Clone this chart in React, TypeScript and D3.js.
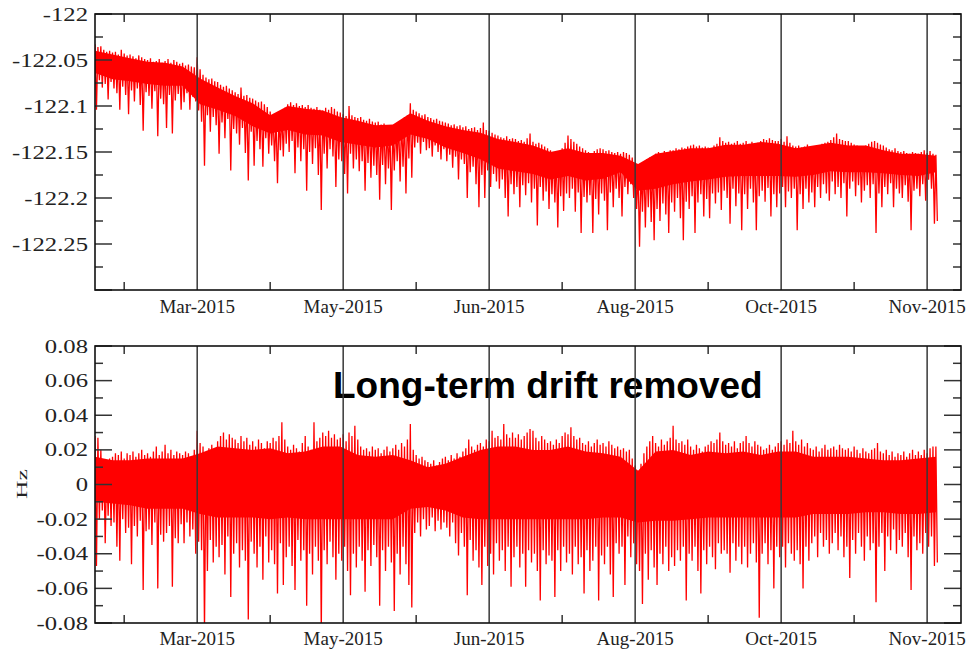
import React, { useEffect, useRef } from 'react';
import * as d3 from 'd3';

// x axis: days since the first sample
const monthLabels = ['Mar-2015', 'May-2015', 'Jun-2015', 'Aug-2015', 'Oct-2015', 'Nov-2015'];
const monthDays = [35, 85, 135, 185, 235, 285];
const midDays = [10, 60, 110, 160, 210, 260];
const coreDays = [0, 6, 12, 18, 24, 30, 36, 42, 48, 54, 60, 66, 72, 78, 84, 90, 96, 102, 108, 114, 120, 126, 132, 138, 144, 150, 156, 162, 168, 174, 180, 186, 192, 198, 204, 210, 216, 222, 228, 234, 240, 246, 252, 258, 264, 270, 276, 282, 288];

// top panel - raw frequency (Hz)
const rawTicks = [-122, -122.05, -122.1, -122.15, -122.2, -122.25, -122.3];
const rawTickLabels = ['-122', '-122.05', '-122.1', '-122.15', '-122.2', '-122.25', ''];
const rawMinor = [-122.025, -122.075, -122.125, -122.175, -122.225, -122.275];

// daily upper / lower excursions
const rawHigh = [
  -122.033, -122.036, -122.035, -122.039, -122.041, -122.040,
  -122.042, -122.041, -122.044, -122.039, -122.043, -122.045,
  -122.044, -122.046, -122.048, -122.045, -122.047, -122.049,
  -122.050, -122.048, -122.052, -122.051, -122.049, -122.053,
  -122.051, -122.049, -122.053, -122.050, -122.052, -122.054,
  -122.053, -122.056, -122.055, -122.057, -122.058, -122.047,
  -122.060, -122.066, -122.069, -122.071, -122.070, -122.073,
  -122.074, -122.077, -122.079, -122.078, -122.081, -122.083,
  -122.085, -122.087, -122.080, -122.089, -122.088, -122.091,
  -122.092, -122.094, -122.096, -122.095, -122.098, -122.101,
  -122.106, -122.110, -122.112, -122.111, -122.108, -122.102,
  -122.098, -122.096, -122.099, -122.097, -122.100, -122.099,
  -122.101, -122.099, -122.102, -122.103, -122.101, -122.104,
  -122.105, -122.102, -122.104, -122.101, -122.103, -122.106,
  -122.107, -122.109, -122.111, -122.100, -122.110, -122.112,
  -122.113, -122.112, -122.115, -122.116, -122.114, -122.117,
  -122.118, -122.117, -122.120, -122.119, -122.121, -122.122,
  -122.121, -122.119, -122.117, -122.115, -122.112, -122.110,
  -122.097, -122.104, -122.106, -122.108, -122.110, -122.109,
  -122.112, -122.113, -122.115, -122.114, -122.116, -122.117,
  -122.118, -122.119, -122.121, -122.120, -122.122, -122.121,
  -122.123, -122.122, -122.125, -122.124, -122.123, -122.126,
  -122.124, -122.118, -122.126, -122.127, -122.129, -122.131,
  -122.132, -122.134, -122.135, -122.133, -122.136, -122.135,
  -122.136, -122.138, -122.137, -122.139, -122.135, -122.130,
  -122.139, -122.141, -122.140, -122.142, -122.144, -122.146,
  -122.148, -122.150, -122.152, -122.149, -122.146, -122.140,
  -122.132, -122.136, -122.139, -122.141, -122.144, -122.146,
  -122.148, -122.150, -122.152, -122.149, -122.147, -122.146,
  -122.147, -122.149, -122.148, -122.150, -122.151, -122.150,
  -122.152, -122.150, -122.151, -122.153, -122.156, -122.163,
  -122.171, -122.168, -122.163, -122.158, -122.156, -122.155,
  -122.152, -122.150, -122.151, -122.149, -122.150, -122.148,
  -122.148, -122.146, -122.147, -122.145, -122.146, -122.144,
  -122.143, -122.142, -122.144, -122.143, -122.145, -122.144,
  -122.145, -122.146, -122.143, -122.141, -122.134, -122.138,
  -122.140, -122.139, -122.141, -122.140, -122.138, -122.141,
  -122.140, -122.138, -122.141, -122.139, -122.142, -122.140,
  -122.138, -122.136, -122.137, -122.135, -122.137, -122.138,
  -122.138, -122.136, -122.139, -122.133, -122.140, -122.143,
  -122.144, -122.143, -122.145, -122.144, -122.142, -122.145,
  -122.146, -122.144, -122.143, -122.141, -122.140, -122.139,
  -122.137, -122.134, -122.130, -122.136, -122.137, -122.138,
  -122.138, -122.140, -122.142, -122.143, -122.145, -122.144,
  -122.143, -122.141, -122.139, -122.138, -122.140, -122.142,
  -122.143, -122.145, -122.147, -122.148, -122.146, -122.149,
  -122.150, -122.149, -122.151, -122.152, -122.150, -122.151,
  -122.152, -122.150, -122.148, -122.151, -122.149, -122.152, -122.153,
];
const rawLow = [
  -122.104, -122.072, -122.080, -122.076, -122.093, -122.074,
  -122.081, -122.086, -122.104, -122.079, -122.088, -122.109,
  -122.083, -122.095, -122.081, -122.099, -122.127, -122.085,
  -122.089, -122.103, -122.084, -122.133, -122.092, -122.098,
  -122.124, -122.088, -122.130, -122.094, -122.087, -122.104,
  -122.096, -122.086, -122.104, -122.090, -122.095, -122.105,
  -122.117, -122.165, -122.110, -122.128, -122.112, -122.121,
  -122.152, -122.118, -122.135, -122.114, -122.170, -122.125,
  -122.130, -122.142, -122.124, -122.151, -122.181, -122.128,
  -122.165, -122.138, -122.147, -122.166, -122.135, -122.152,
  -122.143, -122.160, -122.184, -122.148, -122.155, -122.141,
  -122.150, -122.138, -122.173, -122.145, -122.160, -122.147,
  -122.192, -122.150, -122.163, -122.146, -122.175, -122.213,
  -122.152, -122.168, -122.147, -122.155, -122.188, -122.158,
  -122.160, -122.174, -122.195, -122.152, -122.168, -122.158,
  -122.171, -122.160, -122.192, -122.162, -122.178, -122.165,
  -122.175, -122.202, -122.164, -122.185, -122.168, -122.213,
  -122.170, -122.160, -122.182, -122.166, -122.195, -122.157,
  -122.178, -122.145, -122.140, -122.152, -122.139, -122.148,
  -122.146, -122.155, -122.143, -122.150, -122.158, -122.147,
  -122.160, -122.153, -122.167, -122.155, -122.180, -122.158,
  -122.163, -122.200, -122.172, -122.166, -122.185, -122.210,
  -122.175, -122.200, -122.170, -122.188, -122.174, -122.182,
  -122.190, -122.180, -122.200, -122.220, -122.185, -122.196,
  -122.188, -122.210, -122.186, -122.197, -122.184, -122.205,
  -122.190, -122.230, -122.188, -122.203, -122.193, -122.212,
  -122.196, -122.205, -122.232, -122.198, -122.214, -122.195,
  -122.200, -122.190, -122.215, -122.194, -122.238, -122.199,
  -122.205, -122.197, -122.238, -122.201, -122.218, -122.195,
  -122.203, -122.235, -122.194, -122.210, -122.190, -122.200,
  -122.220, -122.188, -122.196, -122.185, -122.200, -122.212,
  -122.253, -122.215, -122.232, -122.210, -122.226, -122.246,
  -122.212, -122.225, -122.206, -122.218, -122.238, -122.205,
  -122.215, -122.200, -122.222, -122.246, -122.204, -122.212,
  -122.198, -122.238, -122.205, -122.196, -122.220, -122.201,
  -122.222, -122.195, -122.206, -122.194, -122.213, -122.192,
  -122.200, -122.228, -122.190, -122.209, -122.195, -122.235,
  -122.196, -122.212, -122.190, -122.205, -122.235, -122.198,
  -122.192, -122.204, -122.189, -122.220, -122.196, -122.210,
  -122.195, -122.188, -122.210, -122.193, -122.200, -122.190,
  -122.235, -122.196, -122.212, -122.190, -122.205, -122.194,
  -122.210, -122.188, -122.200, -122.185, -122.195, -122.203,
  -122.182, -122.196, -122.188, -122.200, -122.184, -122.220,
  -122.190, -122.182, -122.198, -122.186, -122.205, -122.192,
  -122.186, -122.200, -122.185, -122.238, -122.195, -122.210,
  -122.188, -122.196, -122.184, -122.210, -122.190, -122.195,
  -122.200, -122.186, -122.204, -122.235, -122.192, -122.190,
  -122.198, -122.185, -122.203, -122.180, -122.190, -122.228, -122.225,
];
// dense part of the band, every 6 days
const rawCoreTop = [
  -122.040, -122.044, -122.048, -122.052, -122.053, -122.057, -122.070, -122.080, -122.089, -122.097,
  -122.110, -122.100, -122.103, -122.105, -122.112, -122.116, -122.121, -122.120, -122.108, -122.116,
  -122.122, -122.126, -122.129, -122.136, -122.139, -122.143, -122.150, -122.146, -122.151, -122.151,
  -122.154, -122.163, -122.152, -122.149, -122.146, -122.146, -122.142, -122.142, -122.139, -122.141,
  -122.146, -122.143, -122.140, -122.143, -122.143, -122.148, -122.152, -122.152, -122.154,
];
const rawCoreBottom = [
  -122.064, -122.071, -122.073, -122.076, -122.078, -122.078, -122.098, -122.104, -122.111, -122.122,
  -122.130, -122.126, -122.131, -122.132, -122.139, -122.142, -122.145, -122.143, -122.131, -122.136,
  -122.145, -122.151, -122.158, -122.168, -122.171, -122.174, -122.180, -122.176, -122.181, -122.179,
  -122.172, -122.192, -122.190, -122.185, -122.182, -122.180, -122.177, -122.176, -122.176, -122.176,
  -122.177, -122.175, -122.171, -122.172, -122.172, -122.173, -122.175, -122.176, -122.172,
];

// bottom panel - long-term drift removed (Hz)
const detTicks = [0.08, 0.06, 0.04, 0.02, 0, -0.02, -0.04, -0.06, -0.08];
const detTickLabels = ['0.08', '0.06', '0.04', '0.02', '0', '-0.02', '-0.04', '-0.06', '-0.08'];
const detMinor = [0.07, 0.05, 0.03, 0.01, -0.01, -0.03, -0.05, -0.07];

const detHigh = [
  0.028, 0.027, 0.020, 0.014, 0.012, 0.015,
  0.016, 0.018, 0.017, 0.019, 0.015, 0.018,
  0.017, 0.019, 0.016, 0.018, 0.020, 0.017,
  0.018, 0.016, 0.019, 0.022, 0.017, 0.019,
  0.023, 0.018, 0.020, 0.017, 0.019, 0.018,
  0.017, 0.019, 0.018, 0.016, 0.020, 0.031,
  0.024, 0.022, 0.018, 0.021, 0.023, 0.020,
  0.025, 0.028, 0.030, 0.026, 0.029, 0.027,
  0.026, 0.024, 0.028, 0.025, 0.027, 0.023,
  0.025, 0.022, 0.026, 0.024, 0.021, 0.025,
  0.024, 0.027, 0.025, 0.028, 0.036, 0.026,
  0.022, 0.020, 0.023, 0.021, 0.019, 0.024,
  0.028, 0.022, 0.020, 0.036, 0.025, 0.027,
  0.030, 0.028, 0.031, 0.027, 0.029, 0.026,
  0.027, 0.029, 0.025, 0.030, 0.028, 0.034,
  0.026, 0.022, 0.020, 0.021, 0.019, 0.022,
  0.020, 0.021, 0.018, 0.020, 0.022, 0.019,
  0.021, 0.023, 0.020, 0.024, 0.022, 0.026,
  0.035, 0.020, 0.017, 0.015, 0.016, 0.014,
  0.013, 0.012, 0.014, 0.011, 0.013, 0.015,
  0.016, 0.014, 0.017, 0.015, 0.018, 0.016,
  0.019, 0.021, 0.026, 0.022, 0.020, 0.023,
  0.024, 0.022, 0.026, 0.025, 0.031, 0.027,
  0.028, 0.026, 0.035, 0.029, 0.027, 0.030,
  0.027, 0.029, 0.026, 0.028, 0.030, 0.032,
  0.031, 0.027, 0.025, 0.028, 0.026, 0.024,
  0.025, 0.023, 0.026, 0.024, 0.028, 0.030,
  0.029, 0.033, 0.028, 0.026, 0.027, 0.024,
  0.023, 0.025, 0.022, 0.024, 0.026, 0.023,
  0.024, 0.022, 0.025, 0.023, 0.021, 0.022,
  0.020, 0.021, 0.019, 0.020, 0.015, 0.011,
  0.008, 0.012, 0.018, 0.022, 0.025, 0.028,
  0.024, 0.022, 0.026, 0.023, 0.025, 0.027,
  0.034, 0.026, 0.024, 0.025, 0.023, 0.026,
  0.022, 0.020, 0.023, 0.021, 0.019, 0.022,
  0.023, 0.025, 0.024, 0.026, 0.030, 0.025,
  0.023, 0.024, 0.022, 0.025, 0.021, 0.024,
  0.025, 0.028, 0.024, 0.022, 0.025, 0.023,
  0.022, 0.020, 0.021, 0.023, 0.020, 0.022,
  0.024, 0.025, 0.023, 0.026, 0.024, 0.031,
  0.025, 0.023, 0.026, 0.022, 0.024, 0.021,
  0.020, 0.022, 0.019, 0.021, 0.023, 0.020,
  0.021, 0.022, 0.020, 0.023, 0.021, 0.020,
  0.021, 0.019, 0.022, 0.020, 0.018, 0.021,
  0.019, 0.018, 0.020, 0.021, 0.024, 0.019,
  0.018, 0.020, 0.017, 0.019, 0.016, 0.018,
  0.017, 0.019, 0.016, 0.018, 0.020, 0.017,
  0.019, 0.017, 0.020, 0.018, 0.021, 0.022, 0.022,
];
const detLow = [
  -0.047, -0.020, -0.015, -0.034, -0.018, -0.024,
  -0.022, -0.036, -0.044, -0.020, -0.028, -0.025,
  -0.046, -0.024, -0.030, -0.021, -0.061, -0.027,
  -0.026, -0.035, -0.022, -0.060, -0.029, -0.033,
  -0.028, -0.024, -0.059, -0.031, -0.034, -0.023,
  -0.034, -0.022, -0.030, -0.026, -0.040, -0.033,
  -0.038, -0.085, -0.050, -0.032, -0.045, -0.036,
  -0.042, -0.035, -0.052, -0.030, -0.065, -0.040,
  -0.034, -0.048, -0.038, -0.044, -0.078, -0.033,
  -0.040, -0.048, -0.036, -0.055, -0.030, -0.045,
  -0.038, -0.046, -0.063, -0.034, -0.058, -0.042,
  -0.036, -0.047, -0.061, -0.032, -0.044, -0.038,
  -0.070, -0.040, -0.052, -0.036, -0.044, -0.085,
  -0.038, -0.046, -0.033, -0.042, -0.055, -0.040,
  -0.044, -0.036, -0.050, -0.064, -0.040, -0.048,
  -0.036, -0.044, -0.062, -0.038, -0.047, -0.035,
  -0.042, -0.070, -0.038, -0.050, -0.036, -0.045,
  -0.073, -0.040, -0.052, -0.036, -0.046, -0.058,
  -0.071, -0.028, -0.022, -0.030, -0.020, -0.026,
  -0.024, -0.019, -0.027, -0.021, -0.026, -0.022,
  -0.025, -0.030, -0.022, -0.034, -0.041, -0.028,
  -0.036, -0.064, -0.032, -0.044, -0.038, -0.048,
  -0.058, -0.036, -0.047, -0.040, -0.052, -0.034,
  -0.044, -0.038, -0.050, -0.036, -0.059, -0.042,
  -0.036, -0.048, -0.040, -0.059, -0.038, -0.045,
  -0.040, -0.050, -0.067, -0.038, -0.046, -0.041,
  -0.044, -0.065, -0.038, -0.050, -0.036, -0.045,
  -0.040, -0.052, -0.036, -0.046, -0.042, -0.063,
  -0.038, -0.050, -0.044, -0.036, -0.067, -0.041,
  -0.046, -0.036, -0.052, -0.065, -0.034, -0.040,
  -0.036, -0.058, -0.030, -0.042, -0.034, -0.046,
  -0.050, -0.069, -0.040, -0.055, -0.038, -0.048,
  -0.058, -0.040, -0.046, -0.036, -0.050, -0.042,
  -0.047, -0.038, -0.044, -0.036, -0.067, -0.040,
  -0.044, -0.036, -0.050, -0.063, -0.038, -0.046,
  -0.036, -0.042, -0.049, -0.034, -0.040, -0.038,
  -0.040, -0.051, -0.034, -0.044, -0.036, -0.046,
  -0.036, -0.048, -0.040, -0.034, -0.045, -0.077,
  -0.040, -0.034, -0.046, -0.038, -0.060, -0.036,
  -0.042, -0.036, -0.048, -0.034, -0.040, -0.044,
  -0.038, -0.046, -0.060, -0.036, -0.044, -0.034,
  -0.030, -0.042, -0.028, -0.036, -0.032, -0.040,
  -0.034, -0.028, -0.038, -0.030, -0.042, -0.036,
  -0.054, -0.032, -0.040, -0.028, -0.036, -0.044,
  -0.030, -0.038, -0.034, -0.068, -0.036, -0.028,
  -0.050, -0.030, -0.038, -0.026, -0.040, -0.032,
  -0.036, -0.028, -0.042, -0.061, -0.030, -0.038,
  -0.034, -0.040, -0.028, -0.036, -0.030, -0.047, -0.045,
];
const detCoreTop = [
  0.016, 0.014, 0.014, 0.015, 0.015, 0.015, 0.018, 0.022, 0.021, 0.020,
  0.021, 0.018, 0.019, 0.022, 0.022, 0.017, 0.016, 0.017, 0.014, 0.010,
  0.012, 0.016, 0.020, 0.022, 0.022, 0.020, 0.020, 0.022, 0.019, 0.018,
  0.016, 0.008, 0.019, 0.020, 0.017, 0.019, 0.018, 0.019, 0.017, 0.019,
  0.019, 0.016, 0.016, 0.016, 0.015, 0.014, 0.014, 0.015, 0.016,
];
const detCoreBottom = [
  -0.010, -0.011, -0.012, -0.014, -0.014, -0.014, -0.017, -0.019, -0.019, -0.019,
  -0.020, -0.019, -0.020, -0.020, -0.020, -0.020, -0.020, -0.020, -0.014, -0.013,
  -0.015, -0.019, -0.020, -0.020, -0.020, -0.020, -0.020, -0.020, -0.020, -0.019,
  -0.019, -0.022, -0.021, -0.021, -0.020, -0.019, -0.019, -0.019, -0.019, -0.019,
  -0.019, -0.017, -0.017, -0.017, -0.016, -0.016, -0.017, -0.017, -0.016,
];

const serif = "'Liberation Serif', 'Times New Roman', serif";

const App = () => {
  const ref = useRef<SVGSVGElement>(null);

  useEffect(() => {
    const svg = d3.select(ref.current);
    svg.selectAll('*').remove();

    const left = 95;
    const right = 961;
    const x = d3.scaleLinear().domain([0, 296.6]).range([left, right]);

    const panels = [
      {
        top: 14, bottom: 290, domain: [-122.3, -122],
        high: rawHigh, low: rawLow, coreTop: rawCoreTop, coreBottom: rawCoreBottom,
        ticks: rawTicks, labels: rawTickLabels, minor: rawMinor,
        labelY: 313, rightMajor: 8,
      },
      {
        top: 346, bottom: 623, domain: [-0.08, 0.08],
        high: detHigh, low: detLow, coreTop: detCoreTop, coreBottom: detCoreBottom,
        ticks: detTicks, labels: detTickLabels, minor: detMinor,
        labelY: 645, rightMajor: 17,
      },
    ];

    const ys = panels.map(p => d3.scaleLinear().domain(p.domain).range([p.bottom, p.top]));

    // signal
    panels.forEach((p, i) => {
      const y = ys[i];
      const clipId = `plot-clip-${i}`;
      svg.append('clipPath').attr('id', clipId)
        .append('rect')
        .attr('x', left).attr('y', p.top)
        .attr('width', right - left).attr('height', p.bottom - p.top);

      const plot = svg.append('g').attr('clip-path', `url(#${clipId})`);

      const core = d3.area<number>()
        .x(k => x(coreDays[k]))
        .y0(k => y(p.coreBottom[k]))
        .y1(k => y(p.coreTop[k]));
      plot.append('path')
        .datum(d3.range(coreDays.length))
        .attr('fill', '#ff0000')
        .attr('d', core);

      const pts: [number, number][] = [];
      const n = Math.min(p.high.length, p.low.length);
      for (let d = 0; d < n; d++) {
        pts.push([d, p.high[d]]);
        pts.push([d + 0.5, p.low[d]]);
      }
      const line = d3.line<[number, number]>().x(d => x(d[0])).y(d => y(d[1]));
      plot.append('path')
        .datum(pts)
        .attr('fill', 'none')
        .attr('stroke', '#ff0000')
        .attr('stroke-width', 1.3)
        .attr('stroke-linejoin', 'bevel')
        .attr('d', line);
    });

    // annotation in the lower panel
    svg.append('text')
      .attr('x', 333)
      .attr('y', 398)
      .attr('font-family', "'Liberation Sans', Arial, sans-serif")
      .attr('font-weight', 'bold')
      .attr('font-size', 37)
      .attr('fill', '#000')
      .text('Long-term drift removed');

    // frames, month lines, ticks, labels
    panels.forEach((p, i) => {
      const y = ys[i];
      const g = svg.append('g');

      g.append('g').selectAll('line')
        .data(monthDays)
        .join('line')
        .attr('x1', d => x(d)).attr('x2', d => x(d))
        .attr('y1', p.top).attr('y2', p.bottom)
        .attr('stroke', '#383838')
        .attr('stroke-width', 1.5);

      g.append('g').selectAll('line')
        .data(midDays)
        .join('line')
        .attr('x1', d => x(d)).attr('x2', d => x(d))
        .attr('y1', p.top).attr('y2', p.top + 8)
        .attr('stroke', '#333').attr('stroke-width', 1.5);
      g.append('g').selectAll('line')
        .data(midDays)
        .join('line')
        .attr('x1', d => x(d)).attr('x2', d => x(d))
        .attr('y1', p.bottom).attr('y2', p.bottom - 8)
        .attr('stroke', '#333').attr('stroke-width', 1.5);

      // left ticks
      g.append('g').selectAll('line')
        .data(p.ticks)
        .join('line')
        .attr('x1', left).attr('x2', left + 17)
        .attr('y1', d => y(d)).attr('y2', d => y(d))
        .attr('stroke', '#333').attr('stroke-width', 1.5);
      g.append('g').selectAll('line')
        .data(p.minor)
        .join('line')
        .attr('x1', left).attr('x2', left + 8)
        .attr('y1', d => y(d)).attr('y2', d => y(d))
        .attr('stroke', '#333').attr('stroke-width', 1.5);

      // right ticks
      g.append('g').selectAll('line')
        .data(p.ticks)
        .join('line')
        .attr('x1', right).attr('x2', right - p.rightMajor)
        .attr('y1', d => y(d)).attr('y2', d => y(d))
        .attr('stroke', '#333').attr('stroke-width', 1.5);
      g.append('g').selectAll('line')
        .data(p.minor)
        .join('line')
        .attr('x1', right).attr('x2', right - 8)
        .attr('y1', d => y(d)).attr('y2', d => y(d))
        .attr('stroke', '#333').attr('stroke-width', 1.5);

      g.append('rect')
        .attr('x', left).attr('y', p.top)
        .attr('width', right - left).attr('height', p.bottom - p.top)
        .attr('fill', 'none')
        .attr('stroke', '#111')
        .attr('stroke-width', 1.6);

      // y tick labels (slightly wide glyphs, as in the original)
      g.append('g').selectAll('text')
        .data(p.ticks)
        .join('text')
        .attr('transform', d => `translate(88,${y(d) + 6.5}) scale(1.3,1)`)
        .attr('text-anchor', 'end')
        .attr('font-family', serif)
        .attr('font-size', 19)
        .attr('fill', '#222')
        .text((d, k) => p.labels[k]);

      // month labels
      g.append('g').selectAll('text')
        .data(monthDays)
        .join('text')
        .attr('x', d => x(d))
        .attr('y', p.labelY)
        .attr('text-anchor', 'middle')
        .attr('font-family', serif)
        .attr('font-size', 19)
        .attr('fill', '#222')
        .text((d, k) => monthLabels[k]);
    });

    svg.append('text')
      .attr('transform', 'translate(27,484) rotate(-90) scale(1.35,0.8)')
      .attr('text-anchor', 'middle')
      .attr('font-family', serif)
      .attr('font-size', 19)
      .attr('fill', '#222')
      .text('Hz');
  }, []);

  return (
    <svg
      ref={ref}
      width={971}
      height={650}
      style={{ position: 'absolute', left: 0, top: 0, background: '#fff' }}
    />
  );
};

export default App;
